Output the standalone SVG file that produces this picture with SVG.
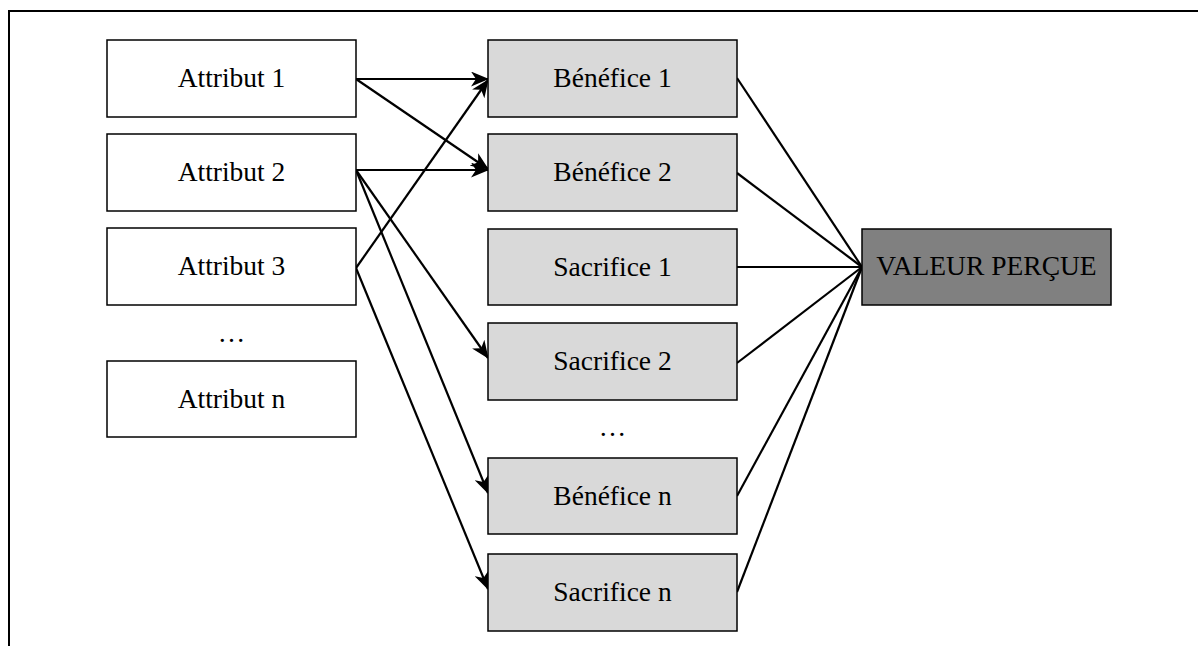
<svg xmlns="http://www.w3.org/2000/svg" width="1198" height="646" viewBox="0 0 1198 646">
<style>
.box{fill:#fff;stroke:#000;stroke-width:1.5}
.mid{fill:#d9d9d9;stroke:#000;stroke-width:1.5}
.val{fill:#808080;stroke:#000;stroke-width:1.5}
text{font-family:"Liberation Serif","Times New Roman",serif;font-size:27.5px;fill:#000;text-anchor:middle}
.c line{stroke:#000;stroke-width:2.2}
.a{marker-end:url(#ah)}
</style>
<defs>
<marker id="ah" viewBox="0 0 18 15" refX="17" refY="7.5" markerWidth="18" markerHeight="15" markerUnits="userSpaceOnUse" orient="auto">
<path d="M0,0 L18,7.5 L0,15 L5,7.5 Z" fill="#000"/>
</marker>
</defs>
<path d="M9,646 L9,11 L1198,11" fill="none" stroke="#000" stroke-width="2"/>
<g class="c">
<line class="a" x1="356" y1="79" x2="488" y2="79"/>
<line class="a" x1="356" y1="79" x2="488" y2="169"/>
<line class="a" x1="356" y1="170" x2="488" y2="170"/>
<line class="a" x1="356" y1="170" x2="488" y2="358"/>
<line class="a" x1="356" y1="170" x2="488" y2="493"/>
<line class="a" x1="356" y1="268" x2="488" y2="80"/>
<line class="a" x1="356" y1="268" x2="488" y2="589"/>
<line x1="737" y1="78" x2="862" y2="267"/>
<line x1="737" y1="173" x2="862" y2="267"/>
<line x1="737" y1="267" x2="862" y2="267"/>
<line x1="737" y1="363" x2="862" y2="267"/>
<line x1="737" y1="496" x2="862" y2="267"/>
<line x1="737" y1="592" x2="862" y2="267"/>
</g>
<g id="attribut1"><rect class="box" x="107" y="40" width="249" height="77"/><text x="231.5" y="87">Attribut 1</text></g>
<g id="attribut2"><rect class="box" x="107" y="134" width="249" height="77"/><text x="231.5" y="181">Attribut 2</text></g>
<g id="attribut3"><rect class="box" x="107" y="228" width="249" height="77"/><text x="231.5" y="275">Attribut 3</text></g>
<text x="231.5" y="342">…</text>
<g id="attributn"><rect class="box" x="107" y="361" width="249" height="76"/><text x="231.5" y="408">Attribut n</text></g>
<g id="benefice1"><rect class="mid" x="488" y="40" width="249" height="77"/><text x="612.5" y="87">Bénéfice 1</text></g>
<g id="benefice2"><rect class="mid" x="488" y="134" width="249" height="77"/><text x="612.5" y="181">Bénéfice 2</text></g>
<g id="sacrifice1"><rect class="mid" x="488" y="229" width="249" height="76"/><text x="612.5" y="276">Sacrifice 1</text></g>
<g id="sacrifice2"><rect class="mid" x="488" y="323" width="249" height="77"/><text x="612.5" y="370">Sacrifice 2</text></g>
<text x="612.5" y="436">…</text>
<g id="beneficen"><rect class="mid" x="488" y="458" width="249" height="76"/><text x="612.5" y="505">Bénéfice n</text></g>
<g id="sacrificen"><rect class="mid" x="488" y="554" width="249" height="77"/><text x="612.5" y="601">Sacrifice n</text></g>
<g id="valeur"><rect class="val" x="862" y="229" width="249" height="76"/><text x="986.5" y="275">VALEUR PERÇUE</text></g>
</svg>
